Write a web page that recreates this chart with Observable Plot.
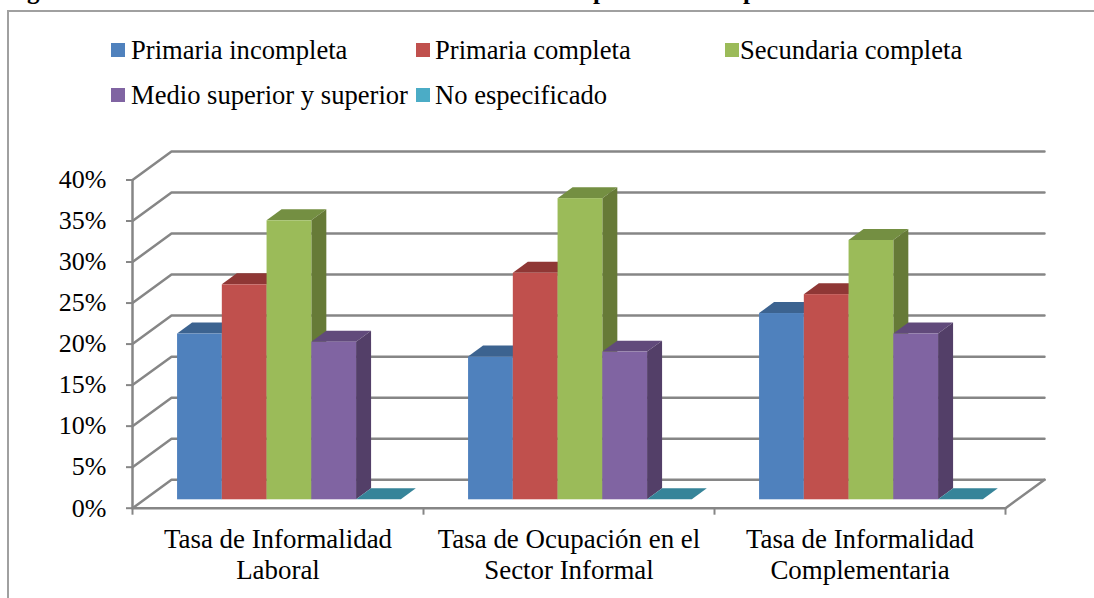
<!DOCTYPE html>
<html>
<head>
<meta charset="utf-8">
<script src="https://cdn.jsdelivr.net/npm/d3@7"></script>
<script src="https://cdn.jsdelivr.net/npm/@observablehq/plot@0.6"></script>
<style>
html,body{margin:0;padding:0;background:#fff;overflow:hidden}
#page{position:relative;width:1094px;height:598px;overflow:hidden;font-family:"Liberation Serif",serif;color:#000}
#frame{position:absolute;left:7px;top:10px;width:1100px;height:600px;border:2px solid #a0a0a0;box-sizing:border-box}
.cut{position:absolute;font-weight:bold;font-size:25px;line-height:25px;top:-22px}
.lg{position:absolute;font-size:26.6px;line-height:30px;white-space:nowrap}
.sw{position:absolute;width:14px;height:14px}
#chart{position:absolute;left:0;top:130px}
#chart svg{display:block;font-family:"Liberation Serif",serif}
</style>
</head>
<body>
<div id="page">
  <div id="frame"></div>
  <span class="cut" style="left:27px">g</span>
  <span class="cut" style="left:593px">p</span>
  <span class="cut" style="left:743px">p</span>
  <div id="legend"></div>
  <div id="chart"></div>
</div>
<script>
const categories = ["Tasa de Informalidad\nLaboral", "Tasa de Ocupación en el\nSector Informal", "Tasa de Informalidad\nComplementaria"];
const series = ["Primaria incompleta", "Primaria completa", "Secundaria completa", "Medio superior y superior", "No especificado"];
const primariaIncompleta = [20.2, 17.4, 22.7];
const primariaCompleta = [26.2, 27.6, 25.0];
const secundariaCompleta = [34.0, 36.7, 31.6];
const medioSuperior = [19.2, 18.0, 20.2];
const noEspecificado = [0, 0, 0];
const seriesValues = [primariaIncompleta, primariaCompleta, secundariaCompleta, medioSuperior, noEspecificado];
const yTicks = [0, 5, 10, 15, 20, 25, 30, 35, 40];

const frontColors = ["#4F81BD", "#C0504D", "#9BBB59", "#8064A2", "#4BACC6"];
const topColors = ["#3C6390", "#8F3735", "#748F42", "#614A7B", "#368499"];
const sideColors = ["#2F4E73", "#72302E", "#667A37", "#533F68", "#2C6B7C"];

// Oblique projection of the 3D box, in data units
const wallX = 39 / 291, wallY = 3.47;
const barW = 44.75 / 291, gapW = 0.75 * barW;
const depthStart = 0.295, depthEnd = 0.68;
const dx = (depthEnd - depthStart) * wallX, dy = (depthEnd - depthStart) * wallY;
const baseX = depthStart * wallX, baseY = depthStart * wallY;

const gridRows = yTicks.flatMap(v => [
  {v, x: 0, y: v}, {v, x: wallX, y: v + wallY}, {v, x: 3 + wallX, y: v + wallY}
]);
const floorRows = [{x: 0, y: 0}, {x: 3, y: 0}, {x: 3 + wallX, y: wallY}];

const barMarks = [];
categories.forEach((c, g) => {
  series.forEach((s, i) => {
    const v = seriesValues[i][g];
    const xl = g + gapW + i * barW + baseX, xr = xl + barW;
    const top = baseY + v;
    barMarks.push(
      Plot.areaX([{y: top, x1: xl, x2: xr}, {y: top + dy, x1: xl + dx, x2: xr + dx}],
        {y: "y", x1: "x1", x2: "x2", fill: topColors[i]}),
      Plot.areaY([{x: xr, y1: baseY, y2: top}, {x: xr + dx, y1: baseY + dy, y2: top + dy}],
        {x: "x", y1: "y1", y2: "y2", fill: sideColors[i]}),
      Plot.rect([{x1: xl, x2: xr, y1: baseY, y2: top, s}],
        {x1: "x1", x2: "x2", y1: "y1", y2: "y2", fill: "s"})
    );
  });
});

const chart = Plot.plot({
  width: 1094,
  height: 468,
  marginLeft: 132,
  marginRight: 50,
  marginTop: 21,
  marginBottom: 90.3,
  style: {background: "transparent", overflow: "visible"},
  x: {domain: [0, 3 + wallX], label: null},
  y: {domain: [0, 40 + wallY], label: null},
  color: {domain: series, range: frontColors},
  marks: [
    Plot.line(gridRows, {x: "x", y: "y", z: "v", stroke: "#868686", strokeWidth: 2.5}),
    Plot.line(floorRows, {x: "x", y: "y", stroke: "#868686", strokeWidth: 2.5}),
    Plot.ruleX([0], {y1: 0, y2: 40, stroke: "#868686", strokeWidth: 2.5}),
    barMarks,
    Plot.axisY({ticks: yTicks, tickSize: 6, tickPadding: 20, tickFormat: d => d + "%", fontSize: 26, stroke: "#868686", strokeWidth: 2, fill: "#000", label: null}),
    Plot.axisX({ticks: [0, 1, 2, 3], tickSize: 7, tickFormat: () => "", stroke: "#868686", strokeWidth: 2, label: null}),
    Plot.text(categories, {x: (d, i) => i + 0.5, frameAnchor: "bottom", lineAnchor: "top", dy: 18.5, fontSize: 26.9, lineHeight: 1.13, fill: "#000"})
  ]
});
document.getElementById("chart").appendChild(chart);

// Legend
const legendSlots = [[111, 131, 43], [416, 435, 43], [725, 740, 43], [111, 131, 88], [416, 435, 88]];
const legend = document.getElementById("legend");
series.forEach((s, i) => {
  const [sx, tx, y] = legendSlots[i];
  const sw = document.createElement("div");
  sw.className = "sw";
  sw.style.cssText = `left:${sx}px;top:${y}px;background:${frontColors[i]}`;
  const t = document.createElement("div");
  t.className = "lg";
  t.textContent = s;
  t.style.cssText = `left:${tx}px;top:${y - 8}px`;
  legend.append(sw, t);
});
</script>
</body>
</html>
